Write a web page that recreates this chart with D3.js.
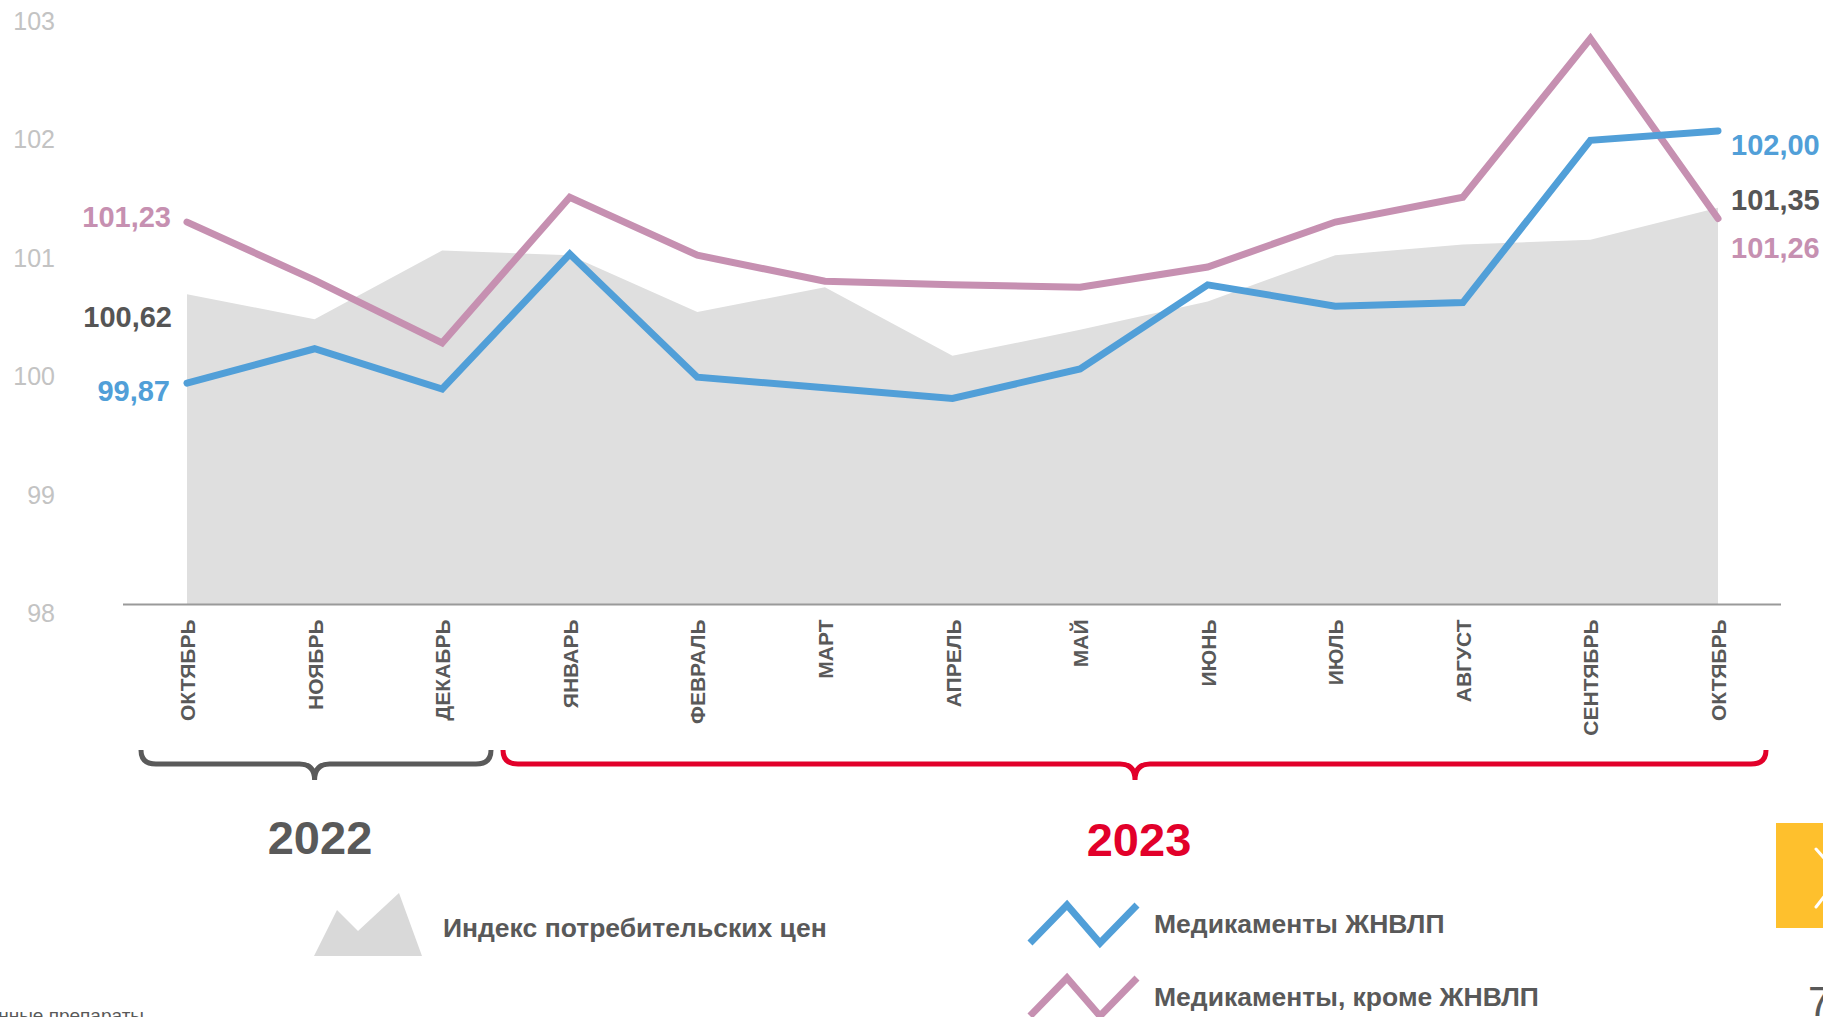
<!DOCTYPE html>
<html>
<head>
<meta charset="utf-8">
<script src="https://cdn.jsdelivr.net/npm/d3@7"></script>
<style>
  body { margin: 0; background: #fff; overflow: hidden; }
  svg { display: block; font-family: "Liberation Sans", Arial, sans-serif; }
</style>
</head>
<body>
<div id="chart"></div>
<script>
// месяцы (окт 2022 - окт 2023)
var months = ["ОКТЯБРЬ", "НОЯБРЬ", "ДЕКАБРЬ", "ЯНВАРЬ", "ФЕВРАЛЬ", "МАРТ", "АПРЕЛЬ",
  "МАЙ", "ИЮНЬ", "ИЮЛЬ", "АВГУСТ", "СЕНТЯБРЬ", "ОКТЯБРЬ"];

// индекс потребительских цен
var cpi = [100.62, 100.41, 100.99, 100.95, 100.47, 100.68, 100.10, 100.32, 100.56, 100.95, 101.04, 101.08, 101.35];
// медикаменты ЖНВЛП
var vital = [99.87, 100.16, 99.82, 100.96, 99.92, 99.83, 99.74, 99.99, 100.70, 100.52, 100.55, 101.92, 102.00];
// медикаменты, кроме ЖНВЛП
var other = [101.23, 100.74, 100.21, 101.44, 100.95, 100.73, 100.70, 100.68, 100.85, 101.23, 101.44, 102.78, 101.26];

var yTicks = [98, 99, 100, 101, 102, 103];
var years = ["2022", "2023"];
var legendNames = ["Индекс потребительских цен", "Медикаменты ЖНВЛП", "Медикаменты, кроме ЖНВЛП"];

var W = 1823, H = 1017;
var colBlue = "#519fd8", colPink = "#c690b1", colGrey = "#dfdfdf", colDark = "#555555", colRed = "#e2002a";

var svg = d3.select("#chart").append("svg")
  .attr("width", W)
  .attr("height", H);

var x = d3.scaleLinear().domain([0, months.length - 1]).range([187, 1718]);
var y = d3.scaleLinear().domain([98, 103]).range([604.5, 12.5]);

// область ИПЦ
var area = d3.area()
  .x(function(d, i) { return x(i); })
  .y0(y(98))
  .y1(function(d) { return y(d); });

svg.append("path")
  .datum(cpi)
  .attr("d", area)
  .attr("fill", colGrey);

// ось Y - только подписи
svg.append("g")
  .selectAll("text")
  .data(yTicks)
  .enter().append("text")
  .attr("x", 55)
  .attr("y", function(d) { return y(d) + 8.5; })
  .attr("text-anchor", "end")
  .attr("dominant-baseline", "central")
  .attr("font-size", 25)
  .attr("fill", "#c3c3c3")
  .text(function(d) { return d; });

// ось X
var xAxis = d3.axisBottom(x)
  .tickValues(d3.range(months.length))
  .tickSize(0)
  .tickFormat(function(i) { return months[i]; });

var gx = svg.append("g")
  .attr("transform", "translate(0," + y(98) + ")")
  .call(xAxis);
gx.select(".domain").remove();
gx.append("line")
  .attr("x1", 123).attr("x2", 1781)
  .attr("stroke", "#9a9a9a")
  .attr("stroke-width", 2);
gx.selectAll(".tick text")
  .attr("transform", "translate(0,15) rotate(-90)")
  .attr("x", 0)
  .attr("y", 0)
  .attr("dy", null)
  .attr("text-anchor", "end")
  .attr("dominant-baseline", "central")
  .attr("font-family", "Liberation Sans, Arial, sans-serif")
  .attr("font-size", 21)
  .attr("font-weight", "bold")
  .attr("fill", "#595959");

// линии
var line = d3.line()
  .x(function(d, i) { return x(i); })
  .y(function(d) { return y(d); });

[[other, colPink], [vital, colBlue]].forEach(function(s) {
  svg.append("path")
    .datum(s[0])
    .attr("d", line)
    .attr("fill", "none")
    .attr("stroke", s[1])
    .attr("stroke-width", 7)
    .attr("stroke-linecap", "round")
    .attr("stroke-linejoin", "miter");
});

// подписи значений
function fmt(v) { return v.toFixed(2).replace(".", ","); }
var last = months.length - 1;
var labels = [
  { t: fmt(other[0]), c: colPink, x: 171, y: 217, a: "end" },
  { t: fmt(cpi[0]), c: colDark, x: 172, y: 317, a: "end" },
  { t: fmt(vital[0]), c: colBlue, x: 170, y: 391, a: "end" },
  { t: fmt(vital[last]), c: colBlue, x: 1731, y: 145, a: "start" },
  { t: fmt(cpi[last]), c: colDark, x: 1731, y: 200, a: "start" },
  { t: fmt(other[last]), c: colPink, x: 1731, y: 248, a: "start" }
];
svg.append("g")
  .selectAll("text")
  .data(labels)
  .enter().append("text")
  .attr("x", function(d) { return d.x; })
  .attr("y", function(d) { return d.y; })
  .attr("text-anchor", function(d) { return d.a; })
  .attr("dominant-baseline", "central")
  .attr("font-size", 29)
  .attr("font-weight", "bold")
  .attr("fill", function(d) { return d.c; })
  .text(function(d) { return d.t; });

// фигурные скобки по годам
function brace(x1, x2, mid, top, mdl, tip) {
  var r = 15;
  return "M" + x1 + "," + top +
    " Q" + x1 + "," + mdl + " " + (x1 + r) + "," + mdl +
    " L" + (mid - r) + "," + mdl +
    " Q" + mid + "," + mdl + " " + mid + "," + tip +
    " Q" + mid + "," + mdl + " " + (mid + r) + "," + mdl +
    " L" + (x2 - r) + "," + mdl +
    " Q" + x2 + "," + mdl + " " + x2 + "," + top;
}
svg.append("path")
  .attr("d", brace(141, 491, x(1), 750, 764, 780))
  .attr("fill", "none").attr("stroke", "#5a5a5a").attr("stroke-width", 5);
svg.append("path")
  .attr("d", brace(503, 1766, 1135, 750, 764, 780))
  .attr("fill", "none").attr("stroke", colRed).attr("stroke-width", 5);

svg.append("text")
  .attr("x", 320).attr("y", 837)
  .attr("text-anchor", "middle").attr("dominant-baseline", "central")
  .attr("font-size", 47).attr("font-weight", "bold").attr("fill", "#595959")
  .text(years[0]);
svg.append("text")
  .attr("x", 1139).attr("y", 839)
  .attr("text-anchor", "middle").attr("dominant-baseline", "central")
  .attr("font-size", 47).attr("font-weight", "bold").attr("fill", colRed)
  .text(years[1]);

// легенда
var lg = svg.append("g");
lg.append("path")
  .attr("d", "M314,956 L337,910 L358,931 L399,893 L422,956 Z")
  .attr("fill", "#d9d9d9");
lg.append("text")
  .attr("x", 443).attr("y", 928)
  .attr("dominant-baseline", "central")
  .attr("font-size", 26.5).attr("font-weight", "bold").attr("fill", "#595959")
  .text(legendNames[0]);

[[colBlue, 924, legendNames[1]], [colPink, 997, legendNames[2]]].forEach(function(s) {
  var cy = s[1];
  lg.append("path")
    .attr("d", "M1030," + (cy + 19) + " L1067," + (cy - 19) + " L1100," + (cy + 19) + " L1137," + (cy - 19))
    .attr("fill", "none")
    .attr("stroke", s[0])
    .attr("stroke-width", 7);
  lg.append("text")
    .attr("x", 1154).attr("y", cy)
    .attr("dominant-baseline", "central")
    .attr("font-size", 26.5).attr("font-weight", "bold").attr("fill", "#595959")
    .text(s[2]);
});

// желтая кнопка, номер страницы, обрезанная сноска
svg.append("rect")
  .attr("x", 1776).attr("y", 823).attr("width", 47).attr("height", 105)
  .attr("fill", "#fec02d");
svg.append("path")
  .attr("d", "M1816,849 L1840,876 L1816,907")
  .attr("fill", "none").attr("stroke", "#fff").attr("stroke-width", 3)
  .attr("stroke-linecap", "round");
svg.append("text")
  .attr("x", 1808).attr("y", 1016)
  .attr("font-size", 42).attr("fill", "#595959")
  .text("7");
svg.append("text")
  .attr("x", 144).attr("y", 1022)
  .attr("text-anchor", "end")
  .attr("font-size", 19).attr("fill", "#595959")
  .text("Лекарственные препараты");
</script>
</body>
</html>
